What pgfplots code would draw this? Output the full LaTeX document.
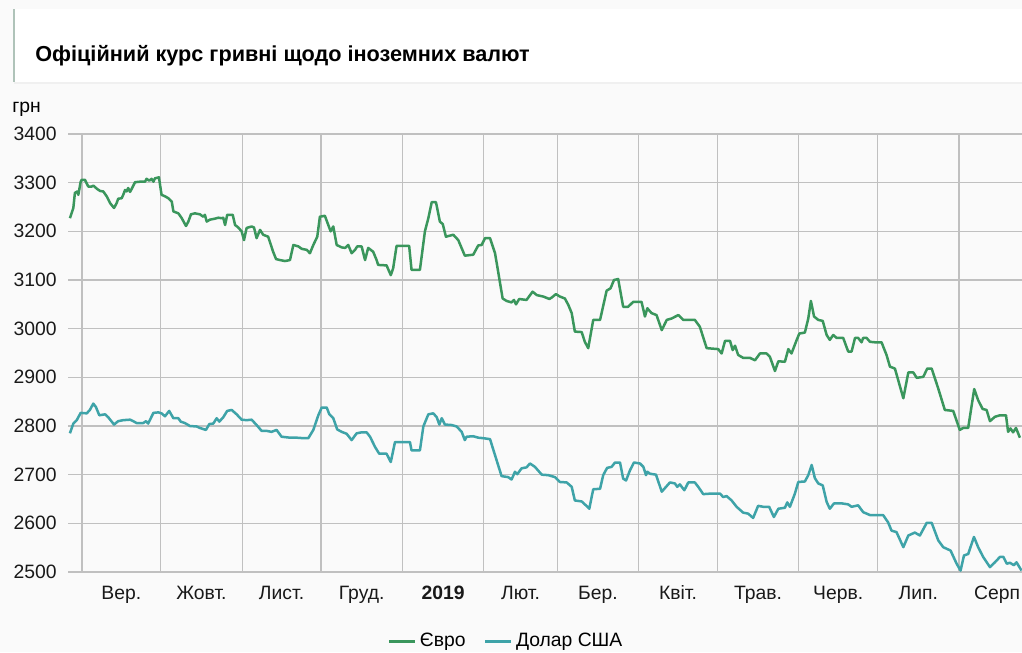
\documentclass[border=0pt]{standalone}
\usepackage{pgfplots}
\pgfplotsset{compat=1.18}
\usepackage{pgfplotstable}
\usepackage{fontspec}
\setmainfont{Liberation Sans}
\definecolor{euroc}{RGB}{58,150,92}
\definecolor{usdc}{RGB}{62,163,168}
\definecolor{gridc}{RGB}{192,192,192}
\definecolor{bgc}{RGB}{250,250,250}
\definecolor{edgec}{RGB}{175,195,185}

% x = days since 1 Sep 2018, y = UAH per 100 units
\pgfplotstableread{
d v
-4.6 3227
-3.3 3248
-2.7 3279
-1.8 3282
-1.4 3275
-0.5 3302
-0.1 3306
1.1 3306
2.4 3292
3.7 3292
4.3 3294
5.8 3287
6.9 3283
8.1 3282
9.4 3272
10.7 3258
12.2 3248
13.2 3258
13.8 3267
15.1 3268
15.7 3275
16.4 3285
17.0 3282
17.6 3289
18.3 3281
18.9 3287
20.2 3301
22.1 3302
24.0 3302
24.6 3308
25.6 3304
26.5 3308
27.2 3302
27.8 3309
29.3 3311
30.3 3275
31.6 3272
32.9 3268
34.2 3261
34.8 3241
36.7 3237
38.0 3227
39.6 3211
40.5 3220
41.5 3235
43.0 3237
44.9 3235
46.2 3230
46.8 3234
47.5 3220
48.7 3224
50.6 3226
51.9 3228
53.2 3227
53.8 3228
54.5 3213
55.3 3234
57.4 3234
58.3 3213
59.5 3208
60.8 3200
61.7 3182
62.7 3207
64.6 3210
65.5 3208
66.5 3186
67.8 3203
69.0 3193
70.9 3189
72.8 3158
73.9 3143
75.4 3141
77.3 3139
79.2 3141
80.5 3172
82.4 3169
83.7 3164
85.6 3162
86.8 3155
88.1 3172
89.6 3189
90.6 3230
92.5 3232
93.8 3213
94.7 3200
95.7 3210
97.0 3172
98.9 3167
100.2 3166
101.4 3172
102.7 3155
104.0 3162
104.8 3169
106.5 3169
107.8 3141
109.0 3166
110.9 3158
112.2 3141
112.8 3131
116.0 3130
117.6 3110
118.5 3124
119.8 3170
121.7 3170
124.6 3170
125.5 3121
128.7 3121
130.6 3200
131.9 3227
133.2 3260
134.8 3260
136.3 3220
137.4 3215
138.6 3189
141.4 3193
143.3 3182
145.8 3150
149.0 3152
150.9 3171
152.2 3172
153.5 3186
155.4 3186
157.3 3155
158.5 3117
160.2 3062
161.7 3057
163.6 3054
164.5 3059
165.3 3050
166.5 3061
169.3 3059
171.6 3076
173.2 3069
175.7 3066
178.0 3061
178.9 3064
180.5 3071
182.0 3066
183.9 3062
185.2 3049
186.5 3032
187.7 2994
190.3 2993
191.5 2973
192.8 2960
194.7 3018
197.3 3018
199.8 3078
201.3 3083
202.6 3100
204.2 3102
206.1 3045
208.0 3045
209.9 3055
213.1 3055
214.4 3025
215.3 3042
216.9 3032
218.8 3028
220.8 2997
222.7 3018
224.6 3021
227.1 3028
229.0 3018
233.4 3018
235.3 3004
237.9 2960
242.3 2958
243.6 2949
244.9 2975
246.8 2975
247.8 2956
248.7 2965
249.9 2946
251.8 2940
254.4 2940
256.3 2935
258.2 2949
260.7 2949
262.0 2942
263.9 2913
265.2 2933
267.7 2932
269.0 2958
270.2 2949
272.2 2977
273.2 2990
275.3 2992
276.6 3021
277.6 3057
278.8 3025
280.4 3018
282.1 3016
283.6 2987
284.8 2977
286.1 2987
287.4 2981
289.9 2981
291.8 2953
293.1 2953
294.4 2981
295.6 2981
296.9 2972
297.5 2981
298.8 2981
300.1 2973
302.0 2972
304.5 2972
306.4 2946
307.7 2922
309.6 2918
312.8 2857
314.7 2910
316.6 2910
317.9 2899
320.4 2901
321.9 2918
323.6 2918
326.1 2877
328.6 2833
331.8 2831
334.3 2792
335.6 2796
337.5 2796
339.8 2876
341.3 2853
343.0 2835
344.5 2833
345.8 2810
347.7 2819
349.6 2822
351.9 2822
352.7 2788
353.6 2795
354.6 2787
355.7 2796
357.2 2776
}\eurotable

\pgfplotstableread{
d v
-4.6 2785
-3.3 2805
-2.0 2812
-0.5 2827
1.8 2826
3.0 2833
4.3 2846
5.3 2839
6.6 2822
8.8 2824
10.0 2818
12.2 2803
13.8 2810
15.7 2812
18.3 2813
19.5 2810
20.8 2806
23.3 2806
24.4 2810
25.2 2805
27.2 2827
29.1 2828
30.3 2826
31.6 2820
33.2 2831
34.8 2816
36.7 2816
37.6 2809
39.2 2806
41.1 2800
43.7 2799
44.9 2796
47.2 2792
48.5 2804
50.0 2805
51.3 2816
52.3 2809
53.8 2818
55.3 2831
57.0 2833
58.9 2824
60.8 2813
62.7 2812
64.6 2813
66.5 2802
68.4 2790
70.3 2790
72.2 2788
74.1 2792
76.0 2778
79.2 2776
81.8 2776
84.3 2775
86.2 2775
88.1 2792
90.0 2822
91.3 2838
93.2 2838
94.2 2824
95.7 2816
97.2 2793
98.9 2788
100.8 2784
102.7 2771
104.6 2785
106.5 2787
108.4 2787
109.7 2778
111.6 2757
113.2 2743
116.0 2743
117.6 2726
119.2 2767
124.9 2767
125.5 2750
128.7 2750
130.0 2799
131.9 2824
133.8 2826
135.1 2818
136.1 2803
137.0 2816
138.2 2803
140.8 2802
142.7 2799
144.6 2788
145.8 2771
146.5 2778
149.0 2779
150.9 2776
152.8 2775
155.4 2773
157.3 2740
159.8 2697
162.3 2695
163.6 2690
164.9 2706
165.8 2701
167.4 2713
169.3 2715
170.6 2723
172.5 2716
175.1 2700
177.6 2699
180.1 2695
182.0 2685
184.6 2684
186.5 2675
187.7 2647
190.3 2645
191.9 2637
193.2 2630
194.7 2670
197.3 2671
198.5 2699
200.0 2714
201.7 2716
203.0 2725
204.9 2725
206.1 2692
207.2 2688
208.7 2709
210.2 2725
212.5 2723
213.8 2716
214.8 2699
215.3 2706
216.3 2702
218.6 2700
220.8 2665
223.9 2684
225.8 2682
226.7 2675
227.7 2680
229.4 2668
230.9 2684
233.4 2684
234.7 2675
236.6 2660
239.2 2661
243.0 2661
244.2 2654
245.5 2656
247.4 2647
249.3 2634
251.8 2622
253.7 2620
255.6 2611
257.5 2636
259.4 2634
261.7 2634
263.5 2613
265.2 2630
267.7 2632
268.6 2643
269.6 2634
271.5 2661
272.8 2685
275.3 2686
276.6 2699
277.9 2720
279.1 2693
280.4 2682
282.1 2678
283.6 2644
284.8 2630
286.4 2641
289.3 2641
291.8 2639
293.1 2634
295.6 2637
297.5 2623
300.1 2617
305.1 2617
307.0 2602
308.3 2585
310.2 2582
312.8 2551
314.7 2575
317.2 2581
319.1 2575
320.1 2585
321.7 2601
323.6 2601
326.1 2565
328.0 2551
330.8 2544
333.1 2517
334.6 2503
335.9 2534
337.5 2537
339.7 2572
341.3 2551
343.2 2531
345.8 2510
347.7 2520
349.6 2531
350.9 2531
352.2 2517
353.4 2519
354.9 2514
355.9 2520
357.8 2503
}\usdtable

\begin{document}
\begin{tikzpicture}
\useasboundingbox (0pt,0pt) rectangle (613.2pt,391.2pt);
\fill[bgc] (0pt,0pt) rectangle (613.2pt,391.2pt);
% title box with soft shadow
\fill[black!6] (8.4pt,340.8pt) rectangle (620pt,385.2pt);
\fill[white] (7.8pt,342pt) rectangle (620pt,385.8pt);
\draw[edgec, line width=1pt] (8.3pt,342pt) -- (8.3pt,385.8pt);
\node[anchor=base west, inner sep=0pt, font=\fontsize{13}{15}\selectfont\bfseries] at (21pt,354pt) {Офіційний курс гривні щодо іноземних валют};
\node[anchor=base west, inner sep=0pt, font=\fontsize{11.6}{13}\selectfont] at (7.2pt,323.6pt) {грн};
\begin{axis}[
  at={(40.8pt,48pt)}, anchor=south west,
  scale only axis, width=572.4pt, height=262.8pt,
  xmin=-5.33, xmax=358.0, ymin=2500, ymax=3400,
  axis line style={draw=none},
  ytick={2500,2600,...,3400},
  ymajorgrids,
  grid style={gridc, line width=0.8pt},
  minor grid style={gridc, line width=0.8pt},
  xtick={15,45.5,76,106.5,137.5,167,196.5,227,257.5,288,318.5,348.5},
  xticklabels={Вер.,Жовт.,Лист.,Груд.,\textbf{2019},Лют.,Бер.,Квіт.,Трав.,Черв.,Лип.,Серп},
  minor xtick={0,30,61,91,122,153,181,212,242,273,303,334},
  xminorgrids, xmajorgrids=false,
  major tick length=0pt, minor tick length=0pt,
  /pgf/number format/assume math mode=true,
  /pgf/number format/1000 sep={},
  tick label style={font=\fontsize{11.6}{13}\selectfont, text=black!90},
  yticklabel style={anchor=east, inner sep=0pt, xshift=-6.6pt},
  xticklabel style={anchor=base, inner sep=0pt, yshift=-16.2pt},
  legend columns=2,
  legend style={draw=none, fill=none, at={(0.460,-0.158)}, anchor=center,
     font=\fontsize{11.6}{13}\selectfont, inner sep=0pt,
     /tikz/every even column/.append style={column sep=9pt}},
  legend image code/.code={\draw[#1, line width=1.6pt] (0pt,0pt) -- (15.6pt,0pt);},
]
\addplot[euroc, line width=1.5pt, line join=round] table[x=d, y=v] {\eurotable};
\addlegendentry{Євро}
\addplot[usdc, line width=1.5pt, line join=round] table[x=d, y=v] {\usdtable};
\addlegendentry{Долар США}
\end{axis}
\end{tikzpicture}
\end{document}
